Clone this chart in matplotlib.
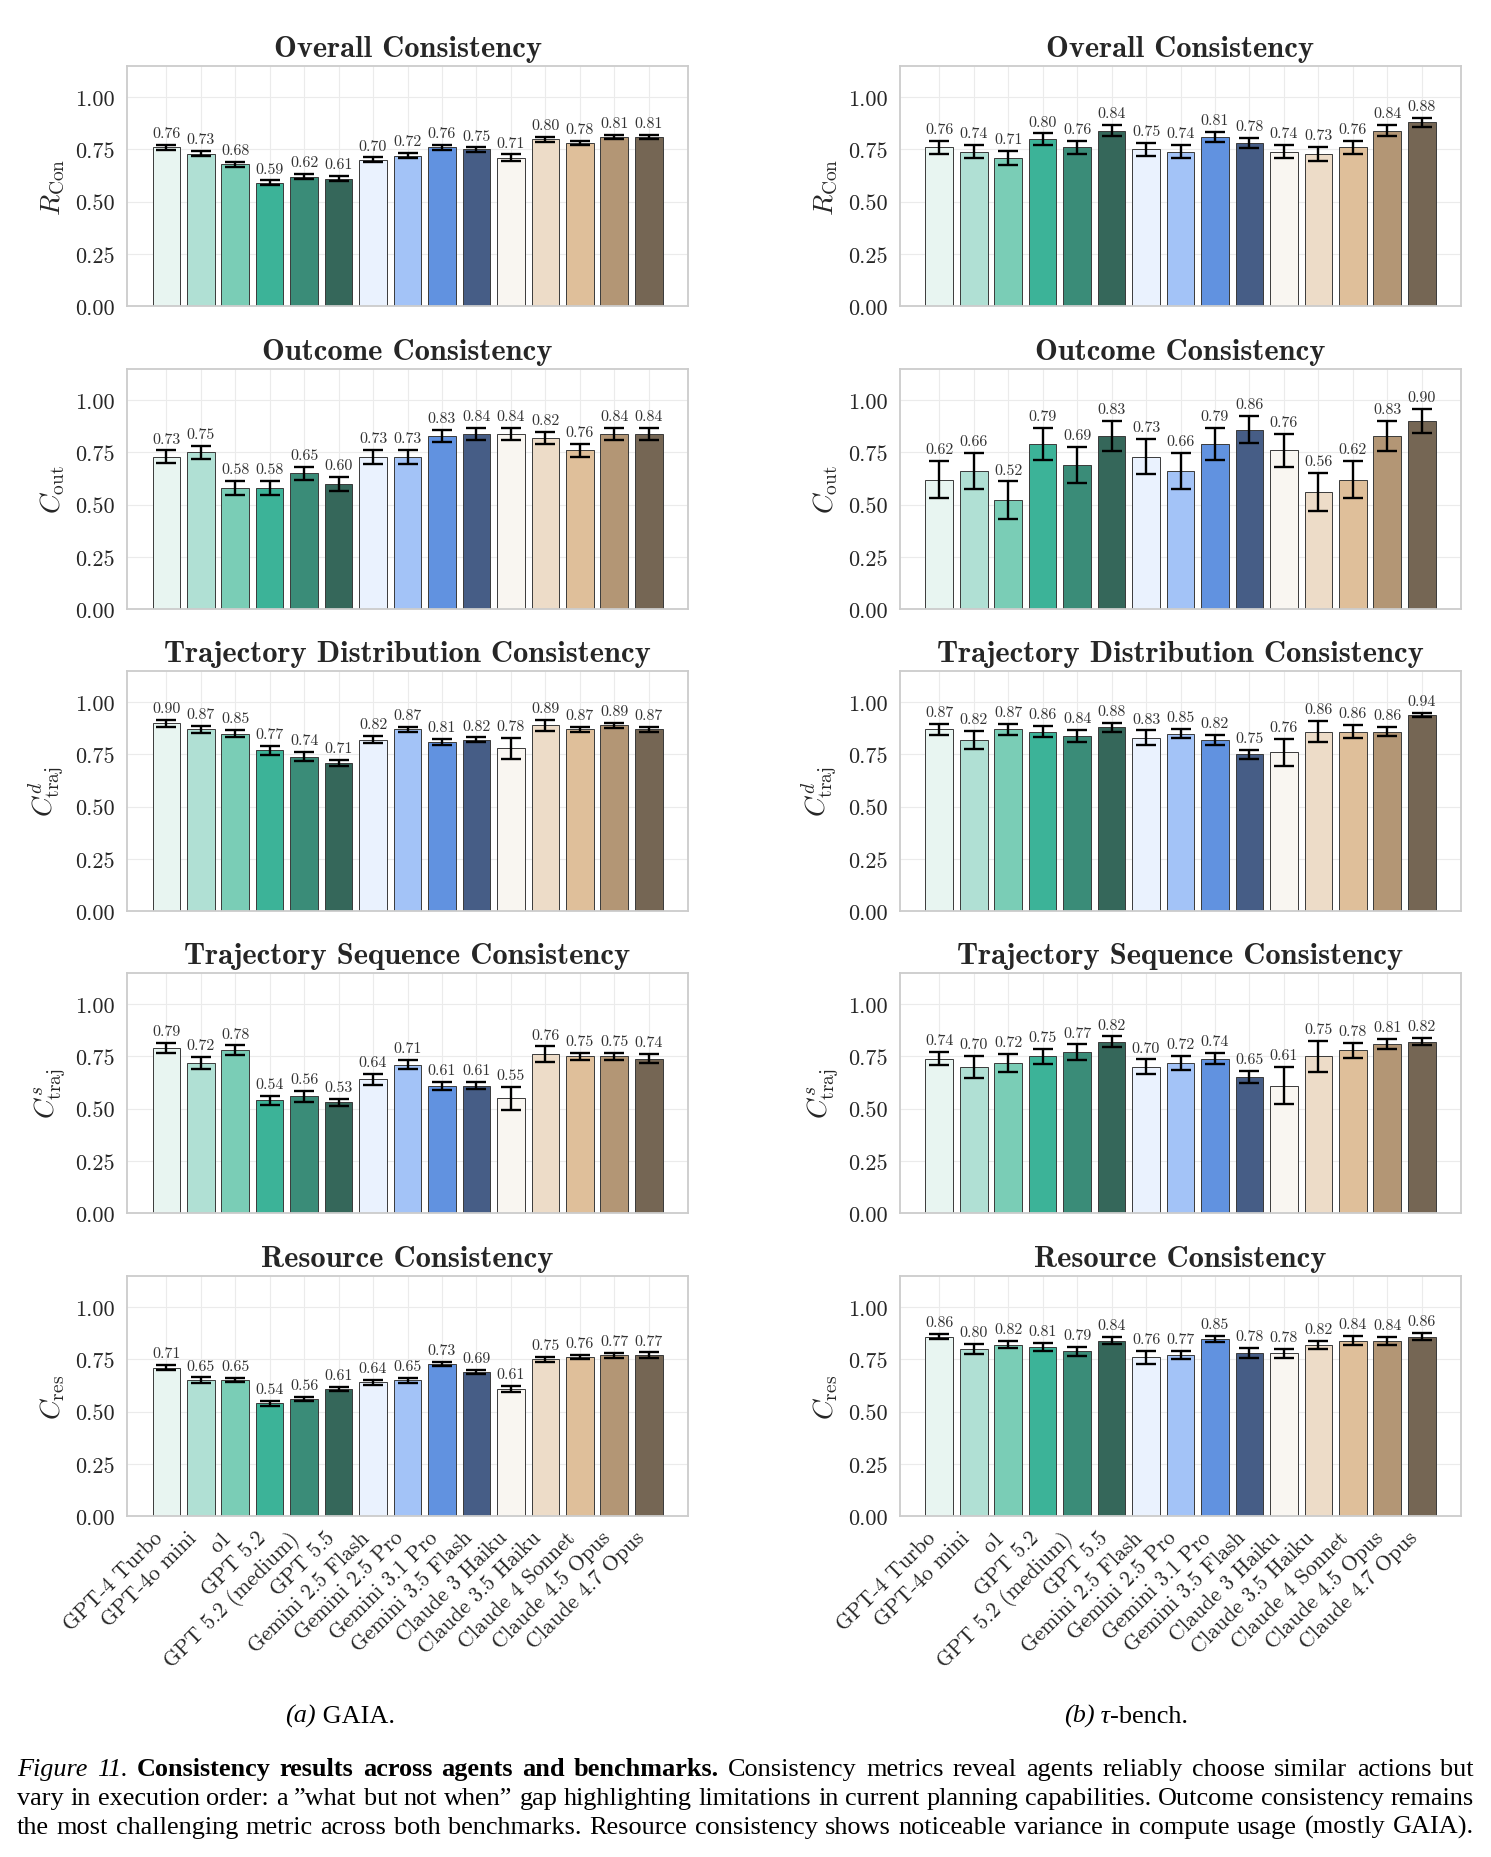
import matplotlib
matplotlib.use("Agg")
import matplotlib.pyplot as plt
import numpy as np

plt.rcParams['mathtext.fontset'] = 'cm'
plt.rcParams['axes.formatter.use_mathtext'] = True

# ---------------- data ----------------
models = ["GPT-4 Turbo", "GPT-4o mini", "o1", "GPT 5.2", "GPT 5.2 (medium)", "GPT 5.5",
          "Gemini 2.5 Flash", "Gemini 2.5 Pro", "Gemini 3.1 Pro", "Gemini 3.5 Flash",
          "Claude 3 Haiku", "Claude 3.5 Haiku", "Claude 4 Sonnet", "Claude 4.5 Opus",
          "Claude 4.7 Opus"]

bar_colors = ["#e8f5f1", "#b0e0d4", "#7acdb6", "#3cb398", "#3a8c78", "#35675a",
              "#eaf2fe", "#a3c3f7", "#6192e0", "#465d86",
              "#f9f6f1", "#eddcc8", "#dfbf9a", "#b39675", "#756654"]

metric_titles = ["Overall Consistency", "Outcome Consistency",
                 "Trajectory Distribution Consistency",
                 "Trajectory Sequence Consistency", "Resource Consistency"]
metric_ylabels = [r"$R_{\mathrm{Con}}$", r"$C_{\mathrm{out}}$",
                  r"$C^{d}_{\mathrm{traj}}$", r"$C^{s}_{\mathrm{traj}}$",
                  r"$C_{\mathrm{res}}$"]

yticks = [0.0, 0.25, 0.5, 0.75, 1.0]
ytick_labels = ["0.00", "0.25", "0.50", "0.75", "1.00"]

# GAIA
gaia_overall = [0.76, 0.73, 0.68, 0.59, 0.62, 0.61, 0.70, 0.72, 0.76, 0.75, 0.71, 0.80, 0.78, 0.81, 0.81]
gaia_overall_err = [0.012, 0.012, 0.012, 0.012, 0.012, 0.012, 0.012, 0.012, 0.012, 0.010, 0.016, 0.012, 0.010, 0.010, 0.010]
gaia_outcome = [0.73, 0.75, 0.58, 0.58, 0.65, 0.60, 0.73, 0.73, 0.83, 0.84, 0.84, 0.82, 0.76, 0.84, 0.84]
gaia_outcome_err = [0.030, 0.031, 0.034, 0.034, 0.032, 0.034, 0.034, 0.034, 0.030, 0.028, 0.028, 0.030, 0.032, 0.028, 0.028]
gaia_trajd = [0.90, 0.87, 0.85, 0.77, 0.74, 0.71, 0.82, 0.87, 0.81, 0.82, 0.78, 0.89, 0.87, 0.89, 0.87]
gaia_trajd_err = [0.016, 0.018, 0.018, 0.022, 0.021, 0.014, 0.017, 0.013, 0.015, 0.012, 0.050, 0.026, 0.012, 0.013, 0.014]
gaia_trajs = [0.79, 0.72, 0.78, 0.54, 0.56, 0.53, 0.64, 0.71, 0.61, 0.61, 0.55, 0.76, 0.75, 0.75, 0.74]
gaia_trajs_err = [0.023, 0.029, 0.023, 0.022, 0.026, 0.018, 0.025, 0.022, 0.020, 0.016, 0.056, 0.038, 0.018, 0.018, 0.021]
gaia_res = [0.71, 0.65, 0.65, 0.54, 0.56, 0.61, 0.64, 0.65, 0.73, 0.69, 0.61, 0.75, 0.76, 0.77, 0.77]
gaia_res_err = [0.012, 0.014, 0.010, 0.012, 0.010, 0.009, 0.013, 0.011, 0.010, 0.010, 0.015, 0.012, 0.010, 0.011, 0.014]

# tau-bench
tau_overall = [0.76, 0.74, 0.71, 0.80, 0.76, 0.84, 0.75, 0.74, 0.81, 0.78, 0.74, 0.73, 0.76, 0.84, 0.88]
tau_overall_err = [0.032, 0.032, 0.032, 0.027, 0.030, 0.026, 0.030, 0.032, 0.026, 0.024, 0.033, 0.034, 0.032, 0.026, 0.021]
tau_outcome = [0.62, 0.66, 0.52, 0.79, 0.69, 0.83, 0.73, 0.66, 0.79, 0.86, 0.76, 0.56, 0.62, 0.83, 0.90]
tau_outcome_err = [0.089, 0.087, 0.091, 0.076, 0.085, 0.072, 0.083, 0.087, 0.076, 0.064, 0.079, 0.090, 0.089, 0.072, 0.058]
tau_trajd = [0.87, 0.82, 0.87, 0.86, 0.84, 0.88, 0.83, 0.85, 0.82, 0.75, 0.76, 0.86, 0.86, 0.86, 0.94]
tau_trajd_err = [0.028, 0.042, 0.026, 0.026, 0.029, 0.020, 0.035, 0.022, 0.023, 0.021, 0.066, 0.052, 0.030, 0.020, 0.011]
tau_trajs = [0.74, 0.70, 0.72, 0.75, 0.77, 0.82, 0.70, 0.72, 0.74, 0.65, 0.61, 0.75, 0.78, 0.81, 0.82]
tau_trajs_err = [0.031, 0.054, 0.044, 0.036, 0.038, 0.026, 0.036, 0.033, 0.025, 0.029, 0.089, 0.076, 0.035, 0.026, 0.017]
tau_res = [0.86, 0.80, 0.82, 0.81, 0.79, 0.84, 0.76, 0.77, 0.85, 0.78, 0.78, 0.82, 0.84, 0.84, 0.86]
tau_res_err = [0.012, 0.024, 0.017, 0.019, 0.021, 0.018, 0.030, 0.019, 0.014, 0.024, 0.022, 0.019, 0.021, 0.019, 0.019]

gaia_vals = [gaia_overall, gaia_outcome, gaia_trajd, gaia_trajs, gaia_res]
gaia_errs = [gaia_overall_err, gaia_outcome_err, gaia_trajd_err, gaia_trajs_err, gaia_res_err]
tau_vals = [tau_overall, tau_outcome, tau_trajd, tau_trajs, tau_res]
tau_errs = [tau_overall_err, tau_outcome_err, tau_trajd_err, tau_trajs_err, tau_res_err]

# ---------------- figure ----------------
W, H = 1491, 1858
DPI = 100
fig = plt.figure(figsize=(W / DPI, H / DPI), dpi=DPI)
fig.patch.set_facecolor("white")

col_left_px = [127, 900]
ax_w_px = 561
row_tops_px = [67, 370, 672, 974, 1277]
ax_h_px = 240

TICK_FONT = "cmr10"
TITLE_FONT = "cmb10"


def draw_panel(ax, vals, errs, title, ylabel, show_xlabels):
    x = np.arange(len(models))
    ax.bar(x, vals, width=0.8, color=bar_colors, edgecolor="#3a3a3a",
           linewidth=0.7, zorder=2)
    ax.errorbar(x, vals, yerr=errs, fmt="none", ecolor="black",
                elinewidth=1.7, capsize=7.5, capthick=1.7, zorder=3)
    for xi, v, e in zip(x, vals, errs):
        ax.annotate(f"{v:.2f}", (xi, v + e), xytext=(0, 3.5),
                    textcoords="offset points", ha="center", va="bottom",
                    fontsize=11.5, family=TICK_FONT, color="#333333", zorder=4)
    ax.set_xlim(-1.14, 15.14)
    ax.set_ylim(0, 1.15)
    ax.set_yticks(yticks)
    ax.set_yticklabels(ytick_labels, family=TICK_FONT, fontsize=16, color="#262626")
    ax.set_xticks(x)
    if show_xlabels:
        ax.set_xticklabels(models, rotation=45, ha="right",
                           family=TICK_FONT, fontsize=15.5, color="#262626")
    else:
        ax.set_xticklabels([])
    ax.tick_params(axis="y", length=0, pad=9)
    ax.tick_params(axis="x", length=0, pad=8)
    ax.grid(True, color="#ebebeb", linewidth=0.8)
    ax.set_axisbelow(True)
    for sp in ax.spines.values():
        sp.set_color("#cccccc")
        sp.set_linewidth(1.3)
    ax.set_title(title, family=TITLE_FONT, fontsize=22, color="#262626", pad=7)
    ax.set_ylabel(ylabel, fontsize=20, color="#262626", labelpad=6)


for c, (vals_all, errs_all) in enumerate([(gaia_vals, gaia_errs), (tau_vals, tau_errs)]):
    for r in range(5):
        left = col_left_px[c] / W
        bottom = 1 - (row_tops_px[r] + ax_h_px) / H
        ax = fig.add_axes([left, bottom, ax_w_px / W, ax_h_px / H])
        draw_panel(ax, vals_all[r], errs_all[r], metric_titles[r], metric_ylabels[r],
                   show_xlabels=(r == 4))

# ---------------- captions ----------------
renderer = fig.canvas.get_renderer()
CAP_FONT = "Liberation Serif"
ITAL = dict(family=CAP_FONT, style="italic")
BOLD = dict(family=CAP_FONT, weight="bold")
REG = dict(family=CAP_FONT)


def words(text, style):
    return [(w, style) for w in text.split(" ") if w]


caption_lines = [
    words("Figure 11.", ITAL)
    + words("Consistency results across agents and benchmarks.", BOLD)
    + words("Consistency metrics reveal agents reliably choose similar actions but", REG),
    words("vary in execution order: a \u201dwhat but not when\u201d gap highlighting "
          "limitations in current planning capabilities. Outcome consistency remains", REG),
    words("the most challenging metric across both benchmarks. Resource consistency "
          "shows noticeable variance in compute usage (mostly GAIA).", REG),
]
cap_x0, cap_x1 = 17, 1474
cap_y_px = [1776, 1805, 1834]

ref_size = 10.0
line_texts = []
max_ratio = 0
for li, line in enumerate(caption_lines):
    ts = []
    for w, st in line:
        t = fig.text(0, 1 - cap_y_px[li] / H, w, fontsize=ref_size, ha="left",
                     va="baseline", color="black", **st)
        ts.append(t)
    line_texts.append(ts)
    tot = sum(t.get_window_extent(renderer).width for t in ts)
    tot += (len(ts) - 1) * 0.25 * ref_size * DPI / 72
    max_ratio = max(max_ratio, tot / (cap_x1 - cap_x0))
cap_size = ref_size / max_ratio

for ts in line_texts:
    for t in ts:
        t.set_fontsize(cap_size)
    widths = [t.get_window_extent(renderer).width for t in ts]
    gap = (cap_x1 - cap_x0 - sum(widths)) / (len(ts) - 1)
    x = cap_x0
    for t, w in zip(ts, widths):
        t.set_x(x / W)
        x += w + gap


def centered_runs(runs, cx_px, y_px, size):
    ts = [fig.text(0, 1 - y_px / H, s, fontsize=size, ha="left", va="baseline",
                   color="black", **st) for s, st in runs]
    widths = [t.get_window_extent(renderer).width for t in ts]
    x = cx_px - sum(widths) / 2
    for t, w in zip(ts, widths):
        t.set_x(x / W)
        x += w


centered_runs([("(a)", ITAL), (" GAIA.", REG)], 340, 1723, cap_size)
centered_runs([("(b)", ITAL), (" \u03c4", ITAL), ("-bench.", REG)], 1126, 1723, cap_size)

fig.savefig("out.png", dpi=DPI, facecolor="white")
